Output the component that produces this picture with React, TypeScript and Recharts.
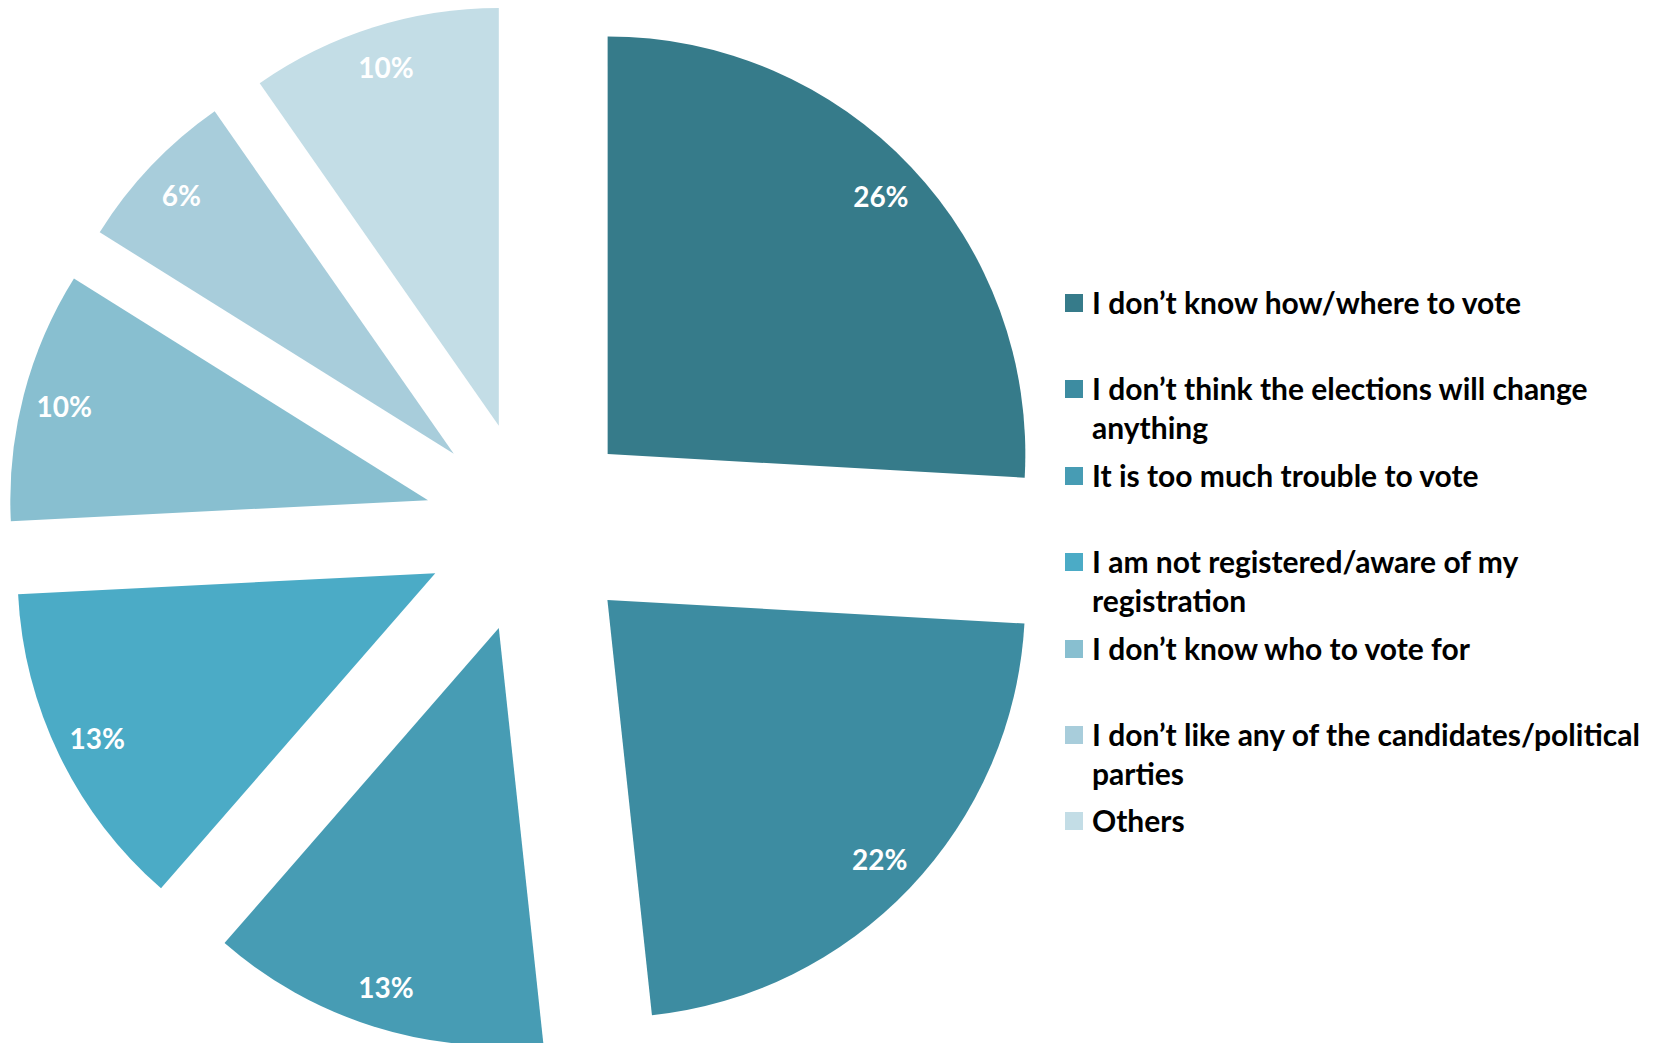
import React from 'react'
import { PieChart, Pie, Cell, Sector, Legend } from 'recharts'

const reasons = [
    'I don\u2019t know how/where to vote',
    'I don\u2019t think the elections will change anything',
    'It is too much trouble to vote',
    'I am not registered/aware of my registration',
    'I don\u2019t know who to vote for',
    'I don\u2019t like any of the candidates/political parties',
    'Others',
]

// shares in % (labels show them rounded)
const shares = [25.9, 22.4, 13.1, 12.8, 9.7, 6.4, 9.7]

const colors = ['#367B8A', '#3D8CA1', '#479CB4', '#4BABC6', '#88BFD0', '#A8CDDB', '#C3DDE6']

const data = reasons.map((name, i) => ({ name, value: shares[i] }))

const RAD = Math.PI / 180
const EXPLODE = 106 // distance each slice is pulled out from the centre
const FONT = 'Lato, "Open Sans", sans-serif'

const ExplodedSlice = (props: any) => {
    const mid = (props.startAngle + props.endAngle) / 2
    const dx = EXPLODE * Math.cos(-mid * RAD)
    const dy = EXPLODE * Math.sin(-mid * RAD)
    return <Sector {...props} cx={props.cx + dx} cy={props.cy + dy} stroke="none" />
}

const renderLabel = (props: any) => {
    const { cx, cy, midAngle, outerRadius, value } = props
    const r = EXPLODE + outerRadius * 0.9
    const x = cx + r * Math.cos(-midAngle * RAD)
    const y = cy + r * Math.sin(-midAngle * RAD)
    return (
        <text
            x={x}
            y={y}
            fill="#FFFFFF"
            textAnchor="middle"
            dominantBaseline="central"
            style={{ fontFamily: FONT, fontWeight: 700, fontSize: 28 }}
        >
            {`${Math.round(value)}%`}
        </text>
    )
}

// legend keeps the slice order (recharts would sort it by name)
const LegendList = () => (
    <div style={{ fontFamily: FONT, fontWeight: 700, fontSize: 30, color: '#000', lineHeight: '39px' }}>
        {reasons.map((name, i) => (
            <div key={`leg-${i}`} style={{ display: 'flex', alignItems: 'flex-start', height: 86.4 }}>
                <div style={{ width: 18, height: 18, marginTop: 11, marginRight: 9, flex: 'none', background: colors[i] }} />
                <div style={{ width: 565 }}>{name}</div>
            </div>
        ))}
    </div>
)

export default function App() {
    return (
        <div style={{ position: 'absolute', left: 0, top: 0, width: 1657, height: 1043, overflow: 'hidden', background: '#fff' }}>
            <PieChart width={1657} height={1043} margin={{ top: 0, right: 0, bottom: 0, left: 0 }}>
                <Pie
                    data={data}
                    dataKey="value"
                    nameKey="name"
                    cx={530.6}
                    cy={526.9}
                    outerRadius={417.7}
                    startAngle={90}
                    endAngle={-270}
                    stroke="none"
                    shape={ExplodedSlice}
                    label={renderLabel}
                    labelLine={false}
                    isAnimationActive={false}
                >
                    {data.map((entry, index) => (
                        <Cell key={`cell-${index}`} fill={colors[index]} />
                    ))}
                </Pie>
                <Legend
                    layout="vertical"
                    content={<LegendList />}
                    wrapperStyle={{ left: 1065, top: 283, width: 592 }}
                />
            </PieChart>
        </div>
    )
}
